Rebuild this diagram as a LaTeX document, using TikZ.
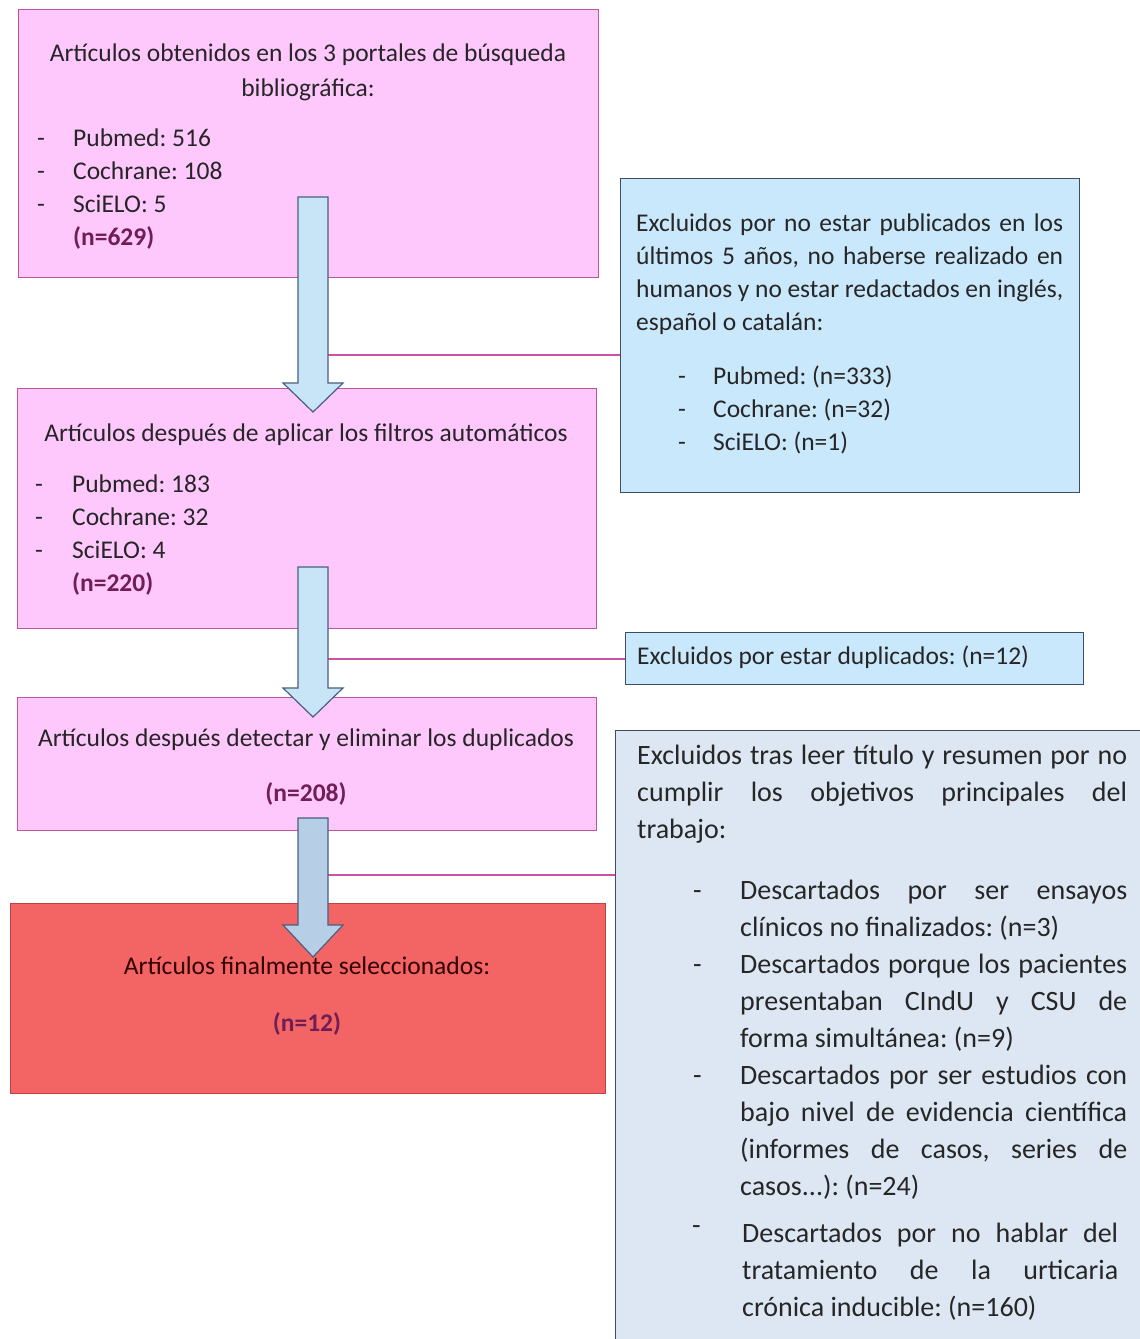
\documentclass[tikz,border=0pt]{standalone}
\usepackage{fontspec}
\setmainfont{Carlito}
\frenchspacing

\definecolor{rosa}{RGB}{255,200,253}
\definecolor{bordeRosa}{RGB}{192,84,152}
\definecolor{lineaRosa}{RGB}{205,80,165}
\definecolor{azul}{RGB}{202,232,251}
\definecolor{azulClaro}{RGB}{221,231,243}
\definecolor{bordeAzul}{RGB}{62,76,102}
\definecolor{rojo}{RGB}{243,101,101}
\definecolor{bordeRojo}{RGB}{196,64,64}
\definecolor{flechaAzul}{RGB}{200,229,248}
\definecolor{flechaOscura}{RGB}{182,206,230}
\definecolor{bordeFlecha}{RGB}{72,96,126}
\definecolor{gris}{RGB}{38,38,38}
\definecolor{morado}{RGB}{112,30,84}

\newcommand{\guion}[1]{\makebox[#1][l]{-}}
\newcommand{\ene}[1]{{\bfseries\color{morado}#1}}
\newcommand{\just}[2]{\makebox[#1][s]{#2}}

\tikzset{
  cajaRosa/.style={draw=bordeRosa, fill=rosa, line width=1.3pt, anchor=north west, inner sep=0pt},
  cajaAzul/.style={draw=bordeAzul, fill=azul, line width=1.3pt, anchor=north west, inner sep=0pt},
  cajaRoja/.style={draw=bordeRojo, fill=rojo, line width=1.3pt, anchor=north west, inner sep=0pt},
  texto/.style={inner sep=0pt, text=gris, font=\fontsize{25.5}{33}\selectfont},
  textoG/.style={inner sep=0pt, text=gris, font=\fontsize{28}{37}\selectfont},
  conector/.style={draw=lineaRosa, line width=1.4pt},
  flecha/.style={draw=bordeFlecha, line width=1.2pt, line join=miter}
}

\begin{document}
\begin{tikzpicture}[x=1pt, y=-1pt]
    \useasboundingbox[fill=white] (0,0) rectangle (1140,1339);

    % Cajas principales
    \node[cajaRosa, minimum width=580pt, minimum height=268pt] (obtenidos) at (18,9) {};
    \node[cajaRosa, minimum width=579pt, minimum height=240pt] (filtrados) at (17,388) {};
    \node[cajaRosa, minimum width=579pt, minimum height=133pt] (sinDup) at (17,697) {};
    \node[cajaRoja, minimum width=595pt, minimum height=190pt] (finales) at (10,903) {};

    % Cajas de excluidos
    \node[cajaAzul, minimum width=459pt, minimum height=314pt] (exclFiltros) at (620,178) {};
    \node[cajaAzul, minimum width=458pt, minimum height=52pt] (exclDup) at (625,632) {};
    \node[cajaAzul, fill=azulClaro, minimum width=540pt, minimum height=620pt] (exclLectura) at (615,730) {};

    % Conectores hacia las cajas de excluidos
    \coordinate (u1) at (328,355);
    \coordinate (u2) at (328,659);
    \coordinate (u3) at (328,875);
    \draw[conector] (u1) -- (u1 -| exclFiltros.west);
    \draw[conector] (u2) -- (u2 -| exclDup.west);
    \draw[conector] (u3) -- (u3 -| exclLectura.west);

    % Flechas de bloque (inicio, base de la punta, punta)
    \foreach \ya/\yb/\yc/\col in {197/383/412/flechaAzul, 567/688/717/flechaAzul, 818/925/957/flechaOscura}
        \filldraw[flecha, fill=\col] (298,\ya) -- (328,\ya) -- (328,\yb) -- (343,\yb)
            -- (313,\yc) -- (283,\yb) -- (298,\yb) -- cycle;

    % Textos de la caja 1
    \node[texto, anchor=north, align=center] (obtenidosT) at (308,38)
        {\strut Artículos obtenidos en los 3 portales de búsqueda\\[2pt]bibliográfica:};
    \node[texto, anchor=north west, align=left] (obtenidosL) at (37,123)
        {\strut\guion{36pt}Pubmed: 516\\ \guion{36pt}Cochrane: 108\\ \guion{36pt}SciELO: 5\\ \hspace*{36pt}\ene{(n=629)}};

    % Textos de la caja 2
    \node[texto, anchor=north] (filtradosT) at (306,418)
        {\strut Artículos después de aplicar los filtros automáticos};
    \node[texto, anchor=north west, align=left] (filtradosL) at (35,469)
        {\strut\guion{37pt}Pubmed: 183\\ \guion{37pt}Cochrane: 32\\ \guion{37pt}SciELO: 4\\ \hspace*{37pt}\ene{(n=220)}};

    % Textos de la caja 3
    \node[texto, anchor=north] (sinDupT) at (306,723)
        {\strut Artículos después detectar y eliminar los duplicados};
    \node[texto, anchor=north] (sinDupN) at (306,778) {\strut\ene{(n=208)}};

    % Caja final
    \node[texto, anchor=north, text=black!80!red] (finalesT) at (307,951)
        {\strut Artículos finalmente seleccionados:};
    \node[texto, anchor=north] (finalesN) at (307,1008) {\strut\ene{(n=12)}};

    % Excluidos por filtros
    \node[texto, anchor=north west, align=left] (exclFiltrosT) at (636,208)
        {\strut\just{427pt}{Excluidos por no estar publicados en los}\\
         \just{427pt}{últimos 5 años, no haberse realizado en}\\
         \just{427pt}{humanos y no estar redactados en inglés,}\\
         español o catalán:};
    \node[texto, anchor=north west, align=left] (exclFiltrosL) at (678,361)
        {\strut\guion{35pt}Pubmed: (n=333)\\ \guion{35pt}Cochrane: (n=32)\\ \guion{35pt}SciELO: (n=1)};

    % Excluidos por duplicados
    \node[texto, anchor=north west] (exclDupT) at (637,641)
        {\strut Excluidos por estar duplicados: (n=12)};

    % Excluidos tras la lectura
    \node[textoG, anchor=north west, align=left] (exclLecturaT) at (637,738)
        {\strut\just{490pt}{Excluidos tras leer título y resumen por no}\\
         \just{490pt}{cumplir los objetivos principales del}\\
         trabajo:\\[24pt]
         \makebox[103pt][l]{\hspace*{56pt}-}\just{387pt}{Descartados por ser ensayos}\\
         \hspace*{103pt}clínicos no finalizados: (n=3)\\
         \makebox[103pt][l]{\hspace*{56pt}-}\just{387pt}{Descartados porque los pacientes}\\
         \hspace*{103pt}\just{387pt}{presentaban CIndU y CSU de}\\
         \hspace*{103pt}forma simultánea: (n=9)\\
         \makebox[103pt][l]{\hspace*{56pt}-}\just{387pt}{Descartados por ser estudios con}\\
         \hspace*{103pt}\just{387pt}{bajo nivel de evidencia científica}\\
         \hspace*{103pt}\just{387pt}{(informes de casos, series de}\\
         \hspace*{103pt}casos...): (n=24)\\[10pt]
         \makebox[105pt][l]{\hspace*{55pt}\raisebox{8pt}{-}}\just{376pt}{Descartados por no hablar del}\\
         \hspace*{105pt}\just{376pt}{tratamiento de la urticaria}\\
         \hspace*{105pt}crónica inducible: (n=160)};
\end{tikzpicture}
\end{document}
